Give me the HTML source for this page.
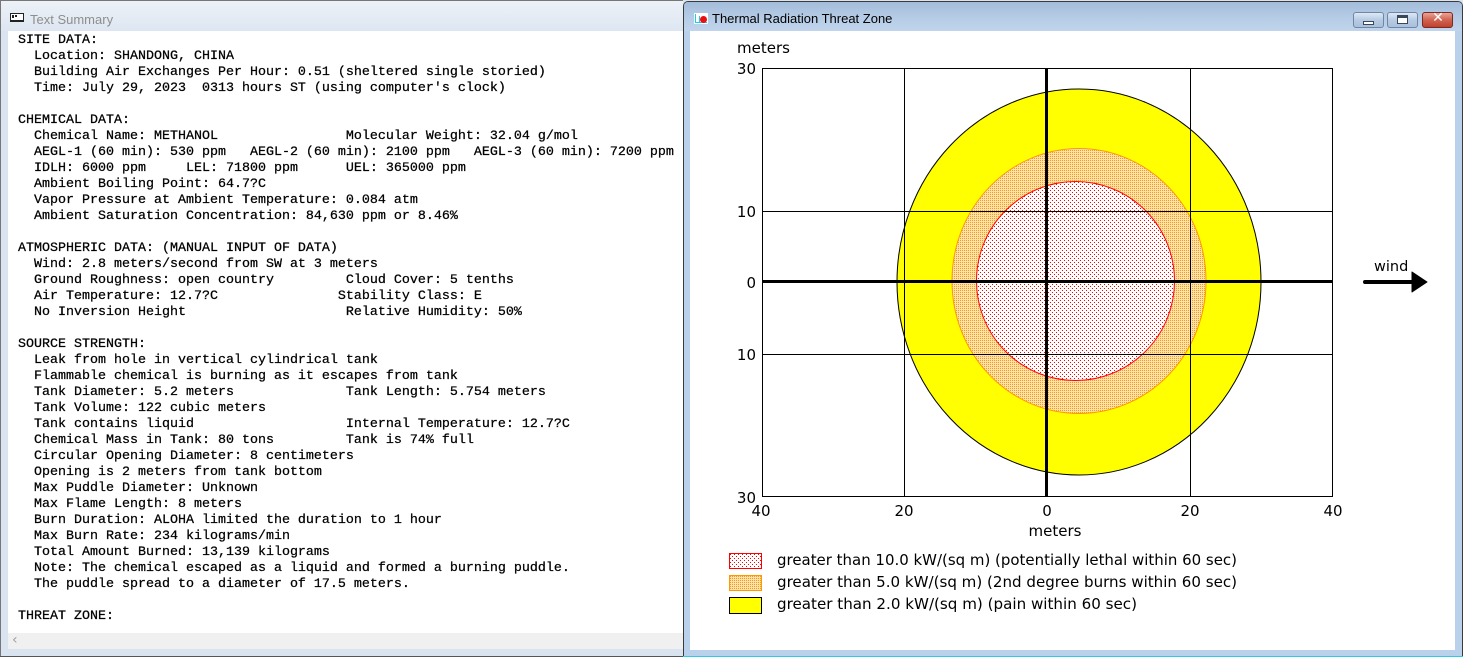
<!DOCTYPE html>
<html>
<head>
<meta charset="utf-8">
<style>
  html,body{margin:0;padding:0;}
  body{width:1463px;height:657px;position:relative;overflow:hidden;background:#dae4f0;}
  .abs{position:absolute;}
  pre{margin:0;font-family:"Liberation Mono","DejaVu Sans Mono",monospace;font-size:13.33px;line-height:16px;color:#000;-webkit-text-stroke:0.25px #000;}
</style>
</head>
<body>
<!-- Left window (inactive) -->
<div class="abs" style="left:0;top:0;width:683px;height:657px;background:#dae4f0;border-left:1px solid #777;border-top:1px solid #777;box-sizing:border-box;"></div>
<div class="abs" style="left:1px;top:1px;width:682px;height:30px;background:linear-gradient(#edf2f8,#dde6f1);"></div>
<div class="abs" style="left:10px;top:13px;width:14px;height:9px;background:#fff;border:1px solid #222;border-bottom:2px solid #222;box-sizing:border-box;"></div>
<div class="abs" style="left:12px;top:15px;width:2px;height:3px;background:#222;"></div>
<div class="abs" style="left:15px;top:15px;width:2px;height:2px;background:#222;"></div>
<div class="abs" style="left:30px;top:12px;font-family:'Liberation Sans','DejaVu Sans',sans-serif;font-size:13px;color:#8e8e8e;">Text Summary</div>
<div class="abs" style="left:8px;top:31px;width:675px;height:602px;background:#fff;"></div>
<div class="abs" style="left:8px;top:633px;width:675px;height:16px;background:#f0f0f0;"></div>
<div class="abs" style="left:12px;top:632px;font-family:'DejaVu Sans',sans-serif;font-size:14px;color:#a0a0a0;">‹</div>
<div class="abs" style="left:0;top:656px;width:683px;height:1px;background:#555;"></div>
<pre class="abs" style="left:18px;top:33px;">SITE DATA:
  Location: SHANDONG, CHINA
  Building Air Exchanges Per Hour: 0.51 (sheltered single storied)
  Time: July 29, 2023  0313 hours ST (using computer's clock)

CHEMICAL DATA:
  Chemical Name: METHANOL                Molecular Weight: 32.04 g/mol
  AEGL-1 (60 min): 530 ppm   AEGL-2 (60 min): 2100 ppm   AEGL-3 (60 min): 7200 ppm
  IDLH: 6000 ppm     LEL: 71800 ppm      UEL: 365000 ppm
  Ambient Boiling Point: 64.7?C
  Vapor Pressure at Ambient Temperature: 0.084 atm
  Ambient Saturation Concentration: 84,630 ppm or 8.46%

ATMOSPHERIC DATA: (MANUAL INPUT OF DATA)
  Wind: 2.8 meters/second from SW at 3 meters
  Ground Roughness: open country         Cloud Cover: 5 tenths
  Air Temperature: 12.7?C               Stability Class: E
  No Inversion Height                    Relative Humidity: 50%

SOURCE STRENGTH:
  Leak from hole in vertical cylindrical tank
  Flammable chemical is burning as it escapes from tank
  Tank Diameter: 5.2 meters              Tank Length: 5.754 meters
  Tank Volume: 122 cubic meters
  Tank contains liquid                   Internal Temperature: 12.7?C
  Chemical Mass in Tank: 80 tons         Tank is 74% full
  Circular Opening Diameter: 8 centimeters
  Opening is 2 meters from tank bottom
  Max Puddle Diameter: Unknown
  Max Flame Length: 8 meters
  Burn Duration: ALOHA limited the duration to 1 hour
  Max Burn Rate: 234 kilograms/min
  Total Amount Burned: 13,139 kilograms
  Note: The chemical escaped as a liquid and formed a burning puddle.
  The puddle spread to a diameter of 17.5 meters.

THREAT ZONE:</pre>

<!-- Right window (active) -->
<div class="abs" style="left:683px;top:1px;width:780px;height:656px;background:#b9d1ea;border-left:1px solid #3a3a3a;border-top:1px solid #3a3a3a;border-right:1px solid #3a3a3a;border-radius:5px 5px 0 0;box-sizing:border-box;"></div>
<div class="abs" style="left:684px;top:2px;width:778px;height:29px;background:linear-gradient(#a3bcda,#b6cce6 55%,#c0d5ec);border-radius:4px 4px 0 0;"></div>
<div class="abs" style="left:683px;top:656px;width:780px;height:1px;background:#2fc9e6;"></div>
<div class="abs" style="left:690px;top:31px;width:765px;height:619px;background:#fff;"></div>
<!-- title icon -->
<div class="abs" style="left:694px;top:13px;width:14px;height:11px;background:#fff;"></div>
<div class="abs" style="left:695px;top:14px;width:1px;height:9px;background:#1ad0e6;"></div>
<div class="abs" style="left:695px;top:22px;width:12px;height:1px;background:#1ad0e6;"></div>
<div class="abs" style="left:699px;top:16px;width:1px;height:6px;background:#1ad0e6;"></div>
<div class="abs" style="left:700px;top:16px;width:7px;height:7px;background:#e81010;border-radius:50%;"></div>
<div class="abs" style="left:712px;top:11px;font-family:'Liberation Sans','DejaVu Sans',sans-serif;font-size:13px;color:#000;">Thermal Radiation Threat Zone</div>
<!-- buttons -->
<div class="abs" style="left:1353px;top:12px;width:31px;height:16px;box-sizing:border-box;border:1px solid #6f86a6;border-radius:3px;background:linear-gradient(#dfe9f5,#b7cbe3 50%,#a9c0dc);"></div>
<div class="abs" style="left:1363px;top:21px;width:11px;height:4px;box-sizing:border-box;border:1px solid #39475a;background:#fff;"></div>
<div class="abs" style="left:1387px;top:12px;width:31px;height:16px;box-sizing:border-box;border:1px solid #6f86a6;border-radius:3px;background:linear-gradient(#dfe9f5,#b7cbe3 50%,#a9c0dc);"></div>
<div class="abs" style="left:1397px;top:15px;width:11px;height:9px;box-sizing:border-box;border:1px solid #39475a;border-top:3px solid #39475a;background:#fff;"></div>
<div class="abs" style="left:1422px;top:12px;width:31px;height:16px;box-sizing:border-box;border:1px solid #7a2a22;border-radius:3px;background:linear-gradient(#e8a496,#d0634f 50%,#c0412d);"></div>
<div class="abs" style="left:1430px;top:10px;width:16px;text-align:center;font-family:'DejaVu Sans',sans-serif;font-weight:bold;font-size:14px;color:#fff;">✕</div>

<svg class="abs" style="left:0;top:0;" width="1463" height="657" viewBox="0 0 1463 657" xmlns="http://www.w3.org/2000/svg">
  <defs>
    <pattern id="pr" width="4" height="4" patternUnits="userSpaceOnUse">
      <rect width="4" height="4" fill="#fff"/>
      <rect x="0" y="0" width="1" height="1" fill="#ff0000"/>
      <rect x="2" y="2" width="1" height="1" fill="#ff0000"/>
    </pattern>
    <pattern id="po" width="2" height="2" patternUnits="userSpaceOnUse">
      <rect width="2" height="2" fill="#ffe2b4"/>
      <rect x="0" y="0" width="1" height="1" fill="#ff9900"/>
    </pattern>
  </defs>
  <g shape-rendering="crispEdges">
    <rect x="762" y="68" width="571" height="429" fill="#fff"/>
  </g>
  <!-- threat zones -->
  <ellipse cx="1079" cy="282" rx="182" ry="193" fill="#ffff00" stroke="#000" stroke-width="1"/>
  <ellipse cx="1079" cy="281" rx="127" ry="132.5" fill="url(#po)" stroke="#ff9900" stroke-width="1"/>
  <ellipse cx="1075.5" cy="281" rx="99" ry="99.5" fill="url(#pr)" stroke="#ff0000" stroke-width="1"/>
  <!-- grid -->
  <g shape-rendering="crispEdges" stroke="#000" fill="none">
    <rect x="762.5" y="68.5" width="570" height="428" stroke-width="1"/>
    <line x1="904.5" y1="68" x2="904.5" y2="497"/>
    <line x1="1190.5" y1="68" x2="1190.5" y2="497"/>
    <line x1="762" y1="211.5" x2="1333" y2="211.5"/>
    <line x1="762" y1="354.5" x2="1333" y2="354.5"/>
    <rect x="1045" y="68" width="3" height="429" fill="#000" stroke="none"/>
    <rect x="762" y="280" width="571" height="3" fill="#000" stroke="none"/>
  </g>
  <!-- labels -->
  <g font-family="'DejaVu Sans','Liberation Sans',sans-serif" font-size="15" fill="#000">
    <text x="737" y="53">meters</text>
    <text x="756" y="74" text-anchor="end">30</text>
    <text x="756" y="217" text-anchor="end">10</text>
    <text x="756" y="288" text-anchor="end">0</text>
    <text x="756" y="360" text-anchor="end">10</text>
    <text x="756" y="503" text-anchor="end">30</text>
    <text x="761" y="516" text-anchor="middle">40</text>
    <text x="904" y="516" text-anchor="middle">20</text>
    <text x="1047" y="516" text-anchor="middle">0</text>
    <text x="1190" y="516" text-anchor="middle">20</text>
    <text x="1333" y="516" text-anchor="middle">40</text>
    <text x="1055" y="536" text-anchor="middle">meters</text>
    <text x="1374" y="271" font-size="14.5">wind</text>
    <text x="777" y="565" textLength="460" lengthAdjust="spacingAndGlyphs">greater than 10.0 kW/(sq m) (potentially lethal within 60 sec)</text>
    <text x="777" y="587" textLength="460" lengthAdjust="spacingAndGlyphs">greater than 5.0 kW/(sq m) (2nd degree burns within 60 sec)</text>
    <text x="777" y="609" textLength="360" lengthAdjust="spacingAndGlyphs">greater than 2.0 kW/(sq m) (pain within 60 sec)</text>
  </g>
  <!-- wind arrow -->
  <line x1="1365" y1="282" x2="1415" y2="282" stroke="#000" stroke-width="4" stroke-linecap="round"/>
  <polygon points="1412,272 1427,282 1412,292" fill="#000" stroke="#000" stroke-width="1" stroke-linejoin="round"/>
  <!-- legend boxes -->
  <g shape-rendering="crispEdges">
    <rect x="729.5" y="553.5" width="32" height="15" fill="url(#pr)" stroke="#ff0000"/>
    <rect x="729.5" y="575.5" width="32" height="15" fill="url(#po)" stroke="#ff9900"/>
    <rect x="729.5" y="597.5" width="32" height="16" fill="#ffff00" stroke="#000"/>
  </g>
</svg>
</body>
</html>
